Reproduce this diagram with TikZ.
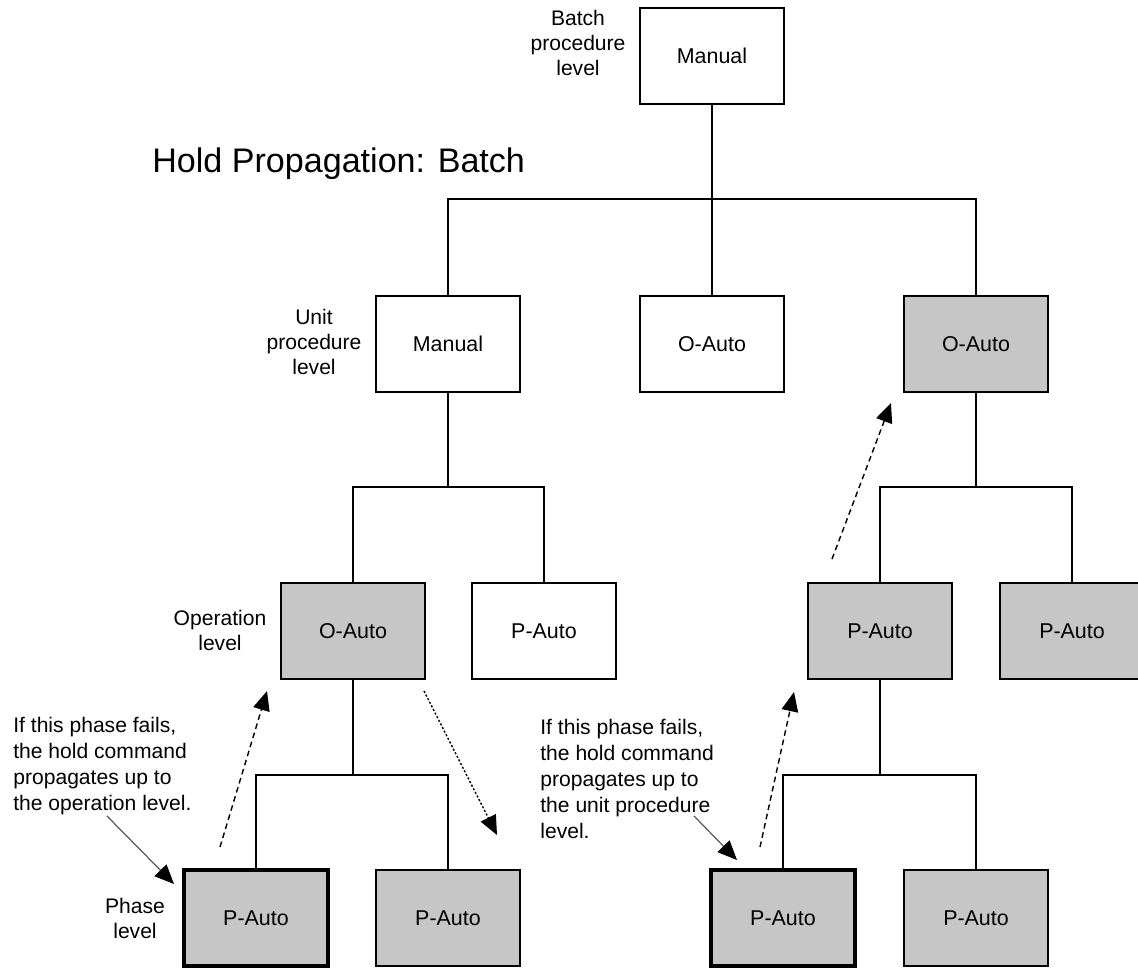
\documentclass[tikz,border=0pt]{standalone}
\usepackage{fontspec}
\setmainfont{Liberation Sans}
\usetikzlibrary{arrows.meta}
\definecolor{boxgray}{RGB}{198,198,198}
\definecolor{calloutgray}{RGB}{90,90,90}
\tikzset{
  box/.style={draw=black, line width=1pt, minimum width=2.88cm, minimum height=1.92cm,
    inner sep=0pt, outer sep=0pt, font=\fontsize{12.2}{14}\selectfont},
  grey/.style={box, fill=boxgray},
  white/.style={box, fill=white},
  failbox/.style={grey, line width=2.4pt},
  conn/.style={draw=black, line width=1pt},
  lvl/.style={align=center, inner sep=0pt, font=\fontsize{12}{14.2}\selectfont},
  note/.style={align=left, inner sep=0pt, anchor=west, font=\fontsize{12}{14.8}\selectfont},
  tip/.style={-{Triangle[length=11pt,width=9.5pt,color=black]}},
  propup/.style={tip, line width=0.8pt, dash pattern=on 3.2pt off 2.2pt},
  propdown/.style={tip, line width=0.8pt, dash pattern=on 1.2pt off 1.1pt},
  callout/.style={tip, line width=0.7pt, draw=calloutgray}
}
\begin{document}
\begin{tikzpicture}[x=0.02cm, y=-0.02cm]
\useasboundingbox (0,0) rectangle (1138,968);
% title
\node[anchor=west, inner sep=0pt, font=\fontsize{19.4}{22}\selectfont] (title) at (152,164) {Hold Propagation: Batch};
% level labels
\node[lvl] (lbatch) at (578,43) {Batch\\procedure\\level};
\node[lvl] (lunit) at (314,342) {Unit\\procedure\\level};
\node[lvl] (lop) at (220,630) {Operation\\level};
\node[lvl] (lphase) at (135,918) {Phase\\level};
% boxes
\node[white] (top) at (712,56) {Manual};
\node[white] (u1) at (448,344) {Manual};
\node[white] (u2) at (712,344) {O-Auto};
\node[grey]  (u3) at (976,344) {O-Auto};
\node[grey]  (o1) at (353,631) {O-Auto};
\node[white] (o2) at (544,631) {P-Auto};
\node[grey]  (r1) at (880,631) {P-Auto};
\node[grey]  (r2) at (1072,631) {P-Auto};
\node[failbox] (p1) at (256,918) {P-Auto};
\node[grey]    (p2) at (448,918) {P-Auto};
\node[failbox] (p3) at (783,918) {P-Auto};
\node[grey]    (p4) at (976,918) {P-Auto};
% junctions
\coordinate (j1) at (712,199);
\coordinate (j2) at (448,487);
\coordinate (j3) at (976,487);
\coordinate (j4) at (353,775);
\coordinate (j5) at (880,775);
% tree connectors
\draw[conn] (top.south) -- (j1);
\draw[conn] (u1.north) |- (j1) -| (u3.north);
\draw[conn] (j1) -- (u2.north);
\draw[conn] (u1.south) -- (j2);
\draw[conn] (o1.north) |- (j2) -| (o2.north);
\draw[conn] (u3.south) -- (j3);
\draw[conn] (r1.north) |- (j3) -| (r2.north);
\draw[conn] (o1.south) -- (j4);
\draw[conn] (p1.north) |- (j4) -| (p2.north);
\draw[conn] (r1.south) -- (j5);
\draw[conn] (p3.north) |- (j5) -| (p4.north);
% notes
\node[note] (n1) at (13,766) {If this phase fails,\\the hold command\\propagates up to\\the operation level.};
\node[note] (n2) at (540,779) {If this phase fails,\\the hold command\\propagates up to\\the unit procedure\\level.};
% arrow ends
\coordinate (a1s) at (220,847); \coordinate (a1e) at (267,691);
\coordinate (a2s) at (424,691); \coordinate (a2e) at (497,835);
\coordinate (c1s) at (107,816); \coordinate (c1e) at (174,884);
\coordinate (a3s) at (760,847); \coordinate (a3e) at (794,692);
\coordinate (c2s) at (694,816); \coordinate (c2e) at (737,860);
\coordinate (a4s) at (832,559); \coordinate (a4e) at (891,403);
\draw[propup] (a1s) -- (a1e);
\draw[propdown] (a2s) -- (a2e);
\draw[callout] (c1s) -- (c1e);
\draw[propup] (a3s) -- (a3e);
\draw[callout] (c2s) -- (c2e);
\draw[propup] (a4s) -- (a4e);
\end{tikzpicture}
\end{document}
